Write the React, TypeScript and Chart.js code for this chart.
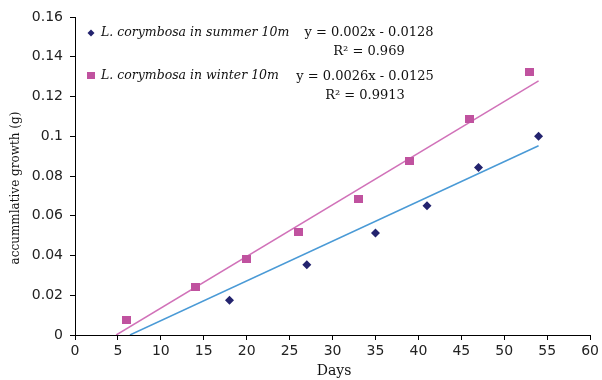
import React, { useEffect, useRef } from "react";
import { Chart, registerables } from "chart.js";

Chart.register(...registerables);

const summerDays = [18, 27, 35, 41, 47, 54];
const summerGrowth = [0.0175, 0.0354, 0.0513, 0.065, 0.0843, 0.1];
const winterDays = [6, 14, 20, 26, 33, 39, 46, 53];
const winterGrowth = [0.0077, 0.024, 0.038, 0.052, 0.0683, 0.0875, 0.1085, 0.1325];
const summerTrendX = [6.4, 54];
const summerTrendY = [0, 0.0952];
const winterTrendX = [4.8, 54];
const winterTrendY = [0, 0.1279];

const summerLabel = "L. corymbosa in summer 10m";
const winterLabel = "L. corymbosa in winter 10m";
const summerEq = "y = 0.002x - 0.0128";
const summerR2 = "R² = 0.969";
const winterEq = "y = 0.0026x - 0.0125";
const winterR2 = "R² = 0.9913";
const xTitle = "Days";
const yTitle = "accummlative growth (g)";

const DIAMOND = "#23236e";
const SQUARE = "#c0529f";
const SUMMER_LINE = "#4a9ad6";
const WINTER_LINE = "#d172b9";

function zip(xs: number[], ys: number[]) {
  return xs.map((x, i) => ({ x, y: ys[i] }));
}

function makeSquare(w: number, h: number, color: string) {
  const c = document.createElement("canvas");
  c.width = w;
  c.height = h;
  const ctx = c.getContext("2d")!;
  ctx.fillStyle = color;
  ctx.fillRect(0, 0, w, h);
  return c;
}

export default function App() {
  const ref = useRef<HTMLCanvasElement | null>(null);

  useEffect(() => {
    const canvas = ref.current!;
    const sq = makeSquare(9, 8, SQUARE);
    const textPlugin = {
      id: "texts",
      afterDraw(chart: any) {
        const ctx = chart.ctx as CanvasRenderingContext2D;
        ctx.save();
        ctx.fillStyle = "#111";
        ctx.textBaseline = "middle";
        // axis titles
        ctx.font = "14px 'DejaVu Serif'";
        ctx.textAlign = "center";
        ctx.fillText(xTitle, 334, 371);
        ctx.save();
        ctx.translate(16, 188);
        ctx.rotate(-Math.PI / 2);
        ctx.font = "12px 'DejaVu Serif'";
        ctx.fillText(yTitle, 0, 0);
        ctx.restore();
        // legend markers
        ctx.fillStyle = DIAMOND;
        ctx.beginPath();
        ctx.moveTo(91, 29.5);
        ctx.lineTo(94.5, 33);
        ctx.lineTo(91, 36.5);
        ctx.lineTo(87.5, 33);
        ctx.closePath();
        ctx.fill();
        ctx.fillStyle = SQUARE;
        ctx.fillRect(87, 72, 8, 7);
        // legend labels
        ctx.fillStyle = "#111";
        ctx.textAlign = "left";
        ctx.font = "italic 12.5px 'DejaVu Serif'";
        ctx.fillText(summerLabel, 101, 33);
        ctx.fillText(winterLabel, 101, 76);
        ctx.textAlign = "center";
        ctx.font = "13px 'DejaVu Serif'";
        ctx.fillText(summerEq, 369, 33);
        ctx.fillText(summerR2, 369, 52);
        ctx.fillText(winterEq, 365, 77);
        ctx.fillText(winterR2, 365, 96);
        ctx.restore();
      },
    };

    const chart = new Chart(canvas, {
      type: "scatter",
      data: {
        datasets: [
          {
            label: summerLabel,
            data: zip(summerDays, summerGrowth),
            pointStyle: "rectRot",
            pointRadius: 4.5,
            pointBackgroundColor: DIAMOND,
            pointBorderWidth: 0,
            borderColor: DIAMOND,
            order: 0,
          },
          {
            label: winterLabel,
            data: zip(winterDays, winterGrowth),
            pointStyle: sq as any,
            pointRadius: 5,
            pointBackgroundColor: SQUARE,
            pointBorderWidth: 0,
            borderColor: SQUARE,
            order: 0,
          },
          {
            label: "summer trend",
            data: zip(summerTrendX, summerTrendY),
            showLine: true,
            pointRadius: 0,
            borderColor: SUMMER_LINE,
            borderWidth: 1.5,
            order: 1,
          },
          {
            label: "winter trend",
            data: zip(winterTrendX, winterTrendY),
            showLine: true,
            pointRadius: 0,
            borderColor: WINTER_LINE,
            borderWidth: 1.5,
            order: 1,
          },
        ],
      },
      options: {
        animation: false,
        responsive: false,
        maintainAspectRatio: false,
        layout: { padding: { left: 0, right: 9, top: 17, bottom: 0 } },
        plugins: {
          legend: { display: false },
          tooltip: { enabled: false },
        },
        scales: {
          x: {
            type: "linear",
            min: 0,
            max: 60,
            ticks: {
              stepSize: 5,
              color: "#222",
              font: { family: "'DejaVu Sans'", size: 14 },
              padding: 3,
              maxRotation: 0,
            },
            grid: {
              drawOnChartArea: false,
              drawTicks: true,
              tickLength: 5,
              color: "#000",
            },
            border: { display: true, color: "#000", width: 1 },
            afterFit(scale: any) {
              scale.height = 45;
            },
          },
          y: {
            type: "linear",
            min: 0,
            max: 0.16,
            ticks: {
              stepSize: 0.02,
              color: "#222",
              font: { family: "'DejaVu Sans'", size: 14 },
              padding: 7,
              callback: (v: any) => String(Math.round(Number(v) * 100) / 100),
            },
            grid: {
              drawOnChartArea: false,
              drawTicks: true,
              tickLength: 5,
              color: "#000",
            },
            border: { display: true, color: "#000", width: 1 },
            afterFit(scale: any) {
              scale.width = 75;
            },
          },
        },
      },
      plugins: [textPlugin],
    });
    return () => chart.destroy();
  }, []);

  return (
    <div style={{ position: "fixed", left: 0, top: 0, width: 602, height: 380, background: "#fff" }}>
      <canvas ref={ref} width={602} height={380} style={{ width: 602, height: 380 }} />
    </div>
  );
}
